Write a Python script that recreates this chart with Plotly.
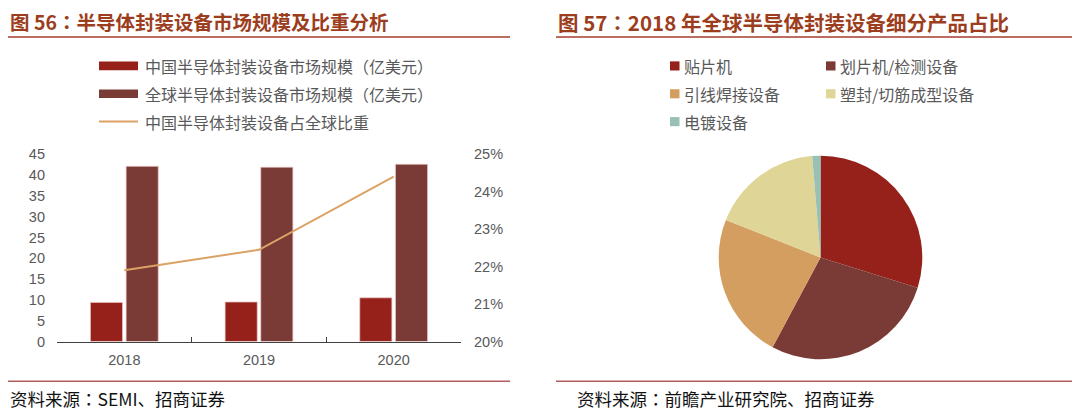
import plotly.graph_objects as go

# page is 1080x418; body keeps its default 8px margin, so the figure is 16px smaller
OFF = 8
W, H = 1080 - 2 * OFF, 418 - 2 * OFF

# ---- data ----
years = ["2018", "2019", "2020"]
china_market = [9.4, 9.5, 10.5]
global_market = [42.1, 41.9, 42.6]
china_share = [0.219, 0.2245, 0.244]

pie_labels = ["贴片机", "划片机/检测设备", "引线焊接设备", "塑封/切筋成型设备", "电镀设备"]
pie_values = [29.8, 28.0, 23.2, 17.7, 1.3]
pie_colors = ["#95211a", "#7a3a35", "#d59e61", "#ded596", "#97c1b5"]

bar_names = ["中国半导体封装设备市场规模（亿美元）", "全球半导体封装设备市场规模（亿美元）"]
line_name = "中国半导体封装设备占全球比重"
bar_colors = ["#95211a", "#7a3a35"]
line_color = "#dba264"

y_ticks = [0, 5, 10, 15, 20, 25, 30, 35, 40, 45]
y2_ticks = [0.20, 0.21, 0.22, 0.23, 0.24, 0.25]


def px(x):
    return (x - OFF) / W


def py(y):
    return 1 - (y - OFF) / H


TEXT_GRAY = "#595959"
CJK = "Noto Sans CJK SC"
LAT = "Liberation Sans, Arial, sans-serif"

fig = go.Figure()
fig.add_trace(go.Bar(x=years, y=china_market, name=bar_names[0],
                     marker=dict(color=bar_colors[0], line=dict(width=0.8, color="rgba(235,200,200,0.9)")),
                     showlegend=False))
fig.add_trace(go.Bar(x=years, y=global_market, name=bar_names[1],
                     marker=dict(color=bar_colors[1], line=dict(width=0.8, color="rgba(235,200,200,0.9)")),
                     showlegend=False))
fig.add_trace(go.Scatter(x=years, y=china_share, name=line_name, mode="lines",
                         line=dict(color=line_color, width=2), yaxis="y2", showlegend=False))

cx, cy, r = 820.5, 259.5, 106
fig.add_trace(go.Pie(labels=pie_labels, values=pie_values, sort=False, direction="clockwise",
                     rotation=0, textinfo="none", hoverinfo="label+percent",
                     marker=dict(colors=pie_colors, line=dict(width=0)),
                     domain=dict(x=[px(cx - r), px(cx + r)], y=[py(cy + r), py(cy - r)]),
                     showlegend=False))

fig.update_layout(
    width=W, height=H,
    margin=dict(l=0, r=0, t=0, b=0),
    paper_bgcolor="white", plot_bgcolor="white",
    barmode="group", bargap=0.47, bargroupgap=0.1,
    xaxis=dict(domain=[px(57), px(461)], type="category", showgrid=False,
               showline=True, linecolor="#404040", linewidth=1,
               ticks="inside", ticklen=5, tickcolor="#404040", tickson="boundaries",
               ticklabelstandoff=5,
               tickfont=dict(family=LAT, size=14.5, color=TEXT_GRAY), fixedrange=True),
    yaxis=dict(domain=[py(347), py(152)], range=[0, 45], tickvals=y_ticks,
               showgrid=False, zeroline=False, showline=False,
               tickfont=dict(family=LAT, size=14.5, color=TEXT_GRAY), ticklabelstandoff=11),
    yaxis2=dict(overlaying="y", side="right", range=[0.20, 0.25], tickvals=y2_ticks,
                tickformat=".0%", showgrid=False, zeroline=False, showline=False,
                tickfont=dict(family=LAT, size=14.5, color=TEXT_GRAY), ticklabelstandoff=12,
                anchor="x"),
)

shapes = []
annotations = []

# titles and rules
TITLE_COLOR = "#9c3e1d"
COLON = '<span style="font-family:Noto Sans CJK JP">：</span>'
annotations.append(dict(x=px(8), y=py(14), xref="paper", yref="paper", xanchor="left", yanchor="middle",
                        text="<b>图 56" + COLON + "半导体封装设备市场规模及比重分析</b>", showarrow=False,
                        font=dict(family=CJK, size=19.5, color=TITLE_COLOR)))
annotations.append(dict(x=px(556), y=py(14), xref="paper", yref="paper", xanchor="left", yanchor="middle",
                        text="<b>图 57" + COLON + "2018 年全球半导体封装设备细分产品占比</b>", showarrow=False,
                        font=dict(family=CJK, size=20.5, color=TITLE_COLOR)))
for x0, x1 in [(8, 510), (556, 1072)]:
    shapes.append(dict(type="line", xref="paper", yref="paper", x0=px(x0), x1=px(x1), y0=py(30), y1=py(30),
                       line=dict(color="#a63d2c", width=1.5)))
    shapes.append(dict(type="line", xref="paper", yref="paper", x0=px(x0), x1=px(x1), y0=py(388.5), y1=py(388.5),
                       line=dict(color="#b45c5c", width=1.5)))

annotations.append(dict(x=px(8), y=py(406), xref="paper", yref="paper", xanchor="left", yanchor="middle",
                        text="资料来源" + COLON + "SEMI、招商证券", showarrow=False,
                        font=dict(family=CJK, size=17.5, color="#111111")))
annotations.append(dict(x=px(575), y=py(406), xref="paper", yref="paper", xanchor="left", yanchor="middle",
                        text="资料来源" + COLON + "前瞻产业研究院、招商证券", showarrow=False,
                        font=dict(family=CJK, size=17.5, color="#111111")))

# left legend (manual)
leg_rows = [60, 89, 118]
for i, (name, col) in enumerate(zip(bar_names, bar_colors)):
    yy = leg_rows[i]
    shapes.append(dict(type="rect", xref="paper", yref="paper", x0=px(99), x1=px(138),
                       y0=py(yy + 4.5), y1=py(yy - 4.5), fillcolor=col, line=dict(width=0)))
    annotations.append(dict(x=px(143), y=py(yy), xref="paper", yref="paper", xanchor="left", yanchor="middle",
                            text=name, showarrow=False, font=dict(family=CJK, size=16, color=TEXT_GRAY)))
shapes.append(dict(type="line", xref="paper", yref="paper", x0=px(99), x1=px(138),
                   y0=py(leg_rows[2]), y1=py(leg_rows[2]), line=dict(color=line_color, width=2)))
annotations.append(dict(x=px(143), y=py(leg_rows[2]), xref="paper", yref="paper", xanchor="left",
                        yanchor="middle", text=line_name, showarrow=False,
                        font=dict(family=CJK, size=16, color=TEXT_GRAY)))

# right legend (manual)
pie_leg_pos = [(670, 60), (826, 60), (670, 89), (826, 89), (670, 118)]
for (lx, ly), name, col in zip(pie_leg_pos, pie_labels, pie_colors):
    shapes.append(dict(type="rect", xref="paper", yref="paper", x0=px(lx), x1=px(lx + 9.5),
                       y0=py(ly + 4.75), y1=py(ly - 4.75), fillcolor=col, line=dict(width=0)))
    annotations.append(dict(x=px(lx + 11.5), y=py(ly), xref="paper", yref="paper", xanchor="left",
                            yanchor="middle", text=name, showarrow=False,
                            font=dict(family=CJK, size=16, color=TEXT_GRAY)))

fig.update_layout(shapes=shapes, annotations=annotations)
fig.write_html("out.html", config={"displayModeBar": False})
